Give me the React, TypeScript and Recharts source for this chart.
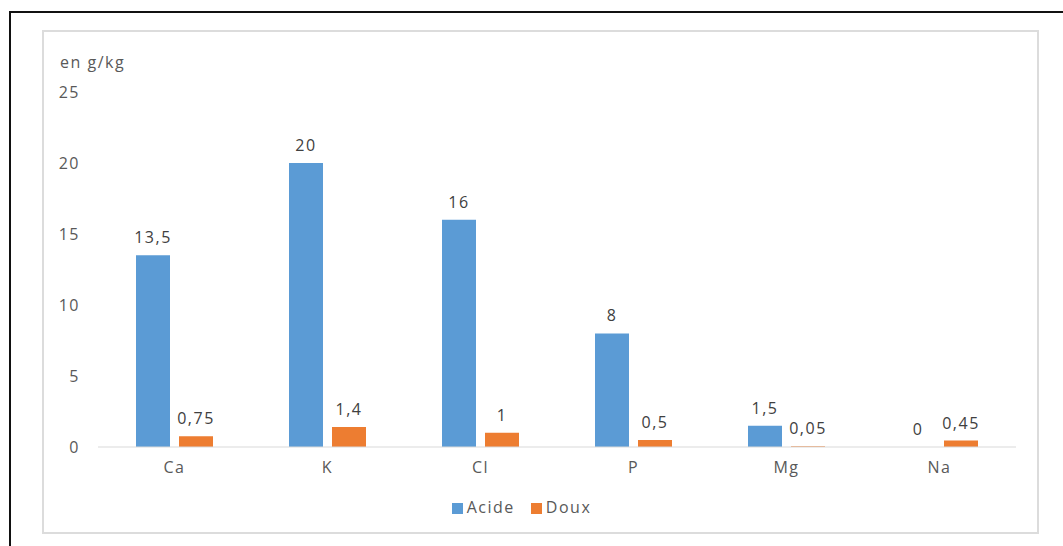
import { BarChart, Bar, XAxis, YAxis, Legend } from "recharts"

const minerals = ["Ca", "K", "Cl", "P", "Mg", "Na"]
const acide = [13.5, 20, 16, 8, 1.5, 0]
const doux = [0.75, 1.4, 1, 0.5, 0.05, 0.45]
const yTicks = [0, 5, 10, 15, 20, 25]

const data = minerals.map((name, i) => ({ name, Acide: acide[i], Doux: doux[i] }))

const FONT = "'Open Sans', 'Noto Sans', sans-serif"
const TEXT = { fontSize: 16, fontFamily: FONT, letterSpacing: 1.5 }
const fmt = (v: any) => String(v).replace(".", ",")

function UnitLabel(props: any) {
  const { viewBox } = props
  return (
    <text x={viewBox.x + 17} y={viewBox.y - 24} fill="#595959" {...TEXT}>
      en g/kg
    </text>
  )
}

// value above each bar, comma as decimal separator
function ValueLabel(props: any) {
  const { x, y, width, value } = props
  return (
    <text x={x + width / 2} y={y - 12} fill="#404040" textAnchor="middle" {...TEXT}>
      {fmt(value)}
    </text>
  )
}

export default function App() {
  return (
    <div
      style={{
        position: "fixed",
        left: 0,
        top: 0,
        width: 1063,
        height: 546,
        background: "#fff",
        overflow: "hidden",
      }}
    >
      {/* outer frame */}
      <div
        style={{
          position: "absolute",
          left: 9,
          top: 11,
          width: 1200,
          height: 700,
          border: "2px solid #111",
        }}
      />
      {/* chart area */}
      <div
        style={{
          position: "absolute",
          left: 42,
          top: 30,
          width: 997,
          height: 504,
          border: "2px solid #dcdcdc",
          boxSizing: "border-box",
          background: "#fff",
        }}
      />
      <div style={{ position: "absolute", left: 43, top: 31 }}>
        <BarChart
          width={997}
          height={504}
          data={data}
          margin={{ top: 61, right: 24, left: 0, bottom: 17 }}
          barSize={34}
          barGap={9}
          style={{ fontFamily: FONT }}
        >
          <XAxis
            dataKey="name"
            axisLine={{ stroke: "#d9d9d9" }}
            tickLine={false}
            tick={{ fill: "#595959", ...TEXT }}
            tickMargin={9}
            height={49}
          />
          <YAxis
            width={55}
            domain={[0, 25]}
            ticks={yTicks}
            axisLine={false}
            tickLine={false}
            tickMargin={12}
            tick={{ fill: "#595959", ...TEXT }}
            label={<UnitLabel />}
          />
          <Legend
            verticalAlign="bottom"
            iconType="square"
            iconSize={11}
            formatter={(value: string) => (
              <span style={{ color: "#595959", ...TEXT, marginRight: 6 }}>{value}</span>
            )}
          />
          {/* tiny minPointSize keeps the zero bar (and its "0" label) in the layout */}
          <Bar
            dataKey="Acide"
            fill="#5b9bd5"
            minPointSize={0.01}
            isAnimationActive={false}
            label={<ValueLabel />}
          />
          <Bar dataKey="Doux" fill="#ed7d31" isAnimationActive={false} label={<ValueLabel />} />
        </BarChart>
      </div>
    </div>
  )
}
